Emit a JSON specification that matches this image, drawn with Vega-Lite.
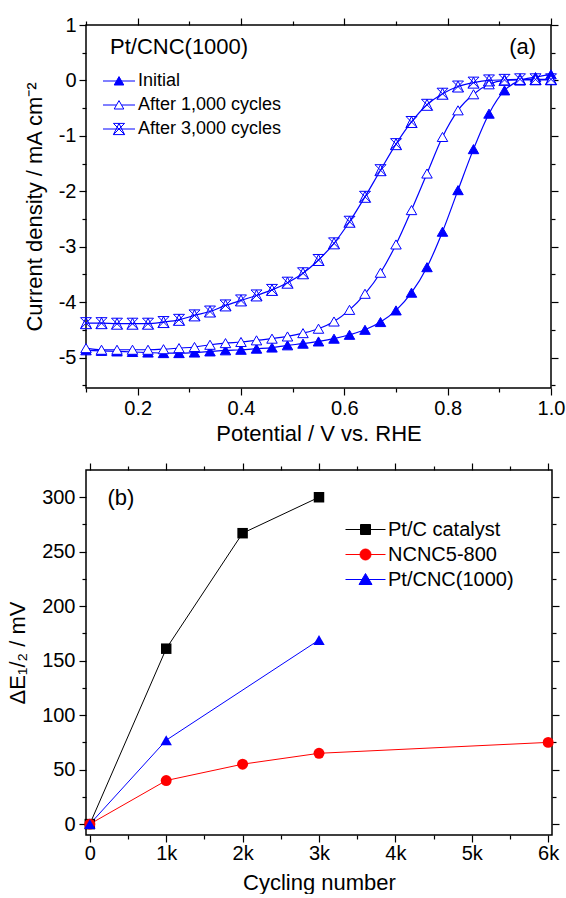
{
  "$schema": "https://vega.github.io/schema/vega-lite/v6.json",
  "padding": {"left": 5, "top": 14, "right": 0, "bottom": 0},
  "spacing": 16,
  "resolve": {
    "scale": {"color": "independent"},
    "legend": {"color": "independent"}
  },
  "config": {
    "font": "Liberation Sans",
    "view": {"stroke": "#000000", "strokeWidth": 1.5},
    "axis": {
      "grid": false,
      "domain": false,
      "labelFont": "Liberation Sans",
      "titleFont": "Liberation Sans",
      "labelFontSize": 20,
      "titleFontSize": 22,
      "labelColor": "#000000",
      "titleColor": "#000000",
      "titleFontWeight": "normal",
      "tickColor": "#000000",
      "tickWidth": 1.2,
      "labelFlush": false,
      "labelOverlap": false
    },
    "legend": {
      "labelFont": "Liberation Sans",
      "titleFont": "Liberation Sans",
      "labelColor": "#000000",
      "titleColor": "#000000",
      "titleFontWeight": "normal",
      "padding": 0
    },
    "text": {"font": "Liberation Sans", "fontWeight": "normal"}
  },
  "datasets": {
    "a": [
      {"E": 0.10, "j": -4.87, "s": "Initial"},
      {"E": 0.13, "j": -4.88, "s": "Initial"},
      {"E": 0.16, "j": -4.89, "s": "Initial"},
      {"E": 0.19, "j": -4.90, "s": "Initial"},
      {"E": 0.22, "j": -4.91, "s": "Initial"},
      {"E": 0.25, "j": -4.92, "s": "Initial"},
      {"E": 0.28, "j": -4.92, "s": "Initial"},
      {"E": 0.31, "j": -4.91, "s": "Initial"},
      {"E": 0.34, "j": -4.89, "s": "Initial"},
      {"E": 0.37, "j": -4.87, "s": "Initial"},
      {"E": 0.40, "j": -4.86, "s": "Initial"},
      {"E": 0.43, "j": -4.84, "s": "Initial"},
      {"E": 0.46, "j": -4.82, "s": "Initial"},
      {"E": 0.49, "j": -4.78, "s": "Initial"},
      {"E": 0.52, "j": -4.75, "s": "Initial"},
      {"E": 0.55, "j": -4.71, "s": "Initial"},
      {"E": 0.58, "j": -4.66, "s": "Initial"},
      {"E": 0.61, "j": -4.59, "s": "Initial"},
      {"E": 0.64, "j": -4.50, "s": "Initial"},
      {"E": 0.67, "j": -4.36, "s": "Initial"},
      {"E": 0.70, "j": -4.15, "s": "Initial"},
      {"E": 0.73, "j": -3.83, "s": "Initial"},
      {"E": 0.76, "j": -3.37, "s": "Initial"},
      {"E": 0.79, "j": -2.73, "s": "Initial"},
      {"E": 0.82, "j": -1.98, "s": "Initial"},
      {"E": 0.85, "j": -1.24, "s": "Initial"},
      {"E": 0.88, "j": -0.60, "s": "Initial"},
      {"E": 0.91, "j": -0.18, "s": "Initial"},
      {"E": 0.94, "j": 0.00, "s": "Initial"},
      {"E": 0.97, "j": 0.06, "s": "Initial"},
      {"E": 1.00, "j": 0.11, "s": "Initial"},
      {"E": 0.10, "j": -4.83, "s": "After 1,000 cycles"},
      {"E": 0.13, "j": -4.86, "s": "After 1,000 cycles"},
      {"E": 0.16, "j": -4.86, "s": "After 1,000 cycles"},
      {"E": 0.19, "j": -4.86, "s": "After 1,000 cycles"},
      {"E": 0.22, "j": -4.86, "s": "After 1,000 cycles"},
      {"E": 0.25, "j": -4.85, "s": "After 1,000 cycles"},
      {"E": 0.28, "j": -4.83, "s": "After 1,000 cycles"},
      {"E": 0.31, "j": -4.81, "s": "After 1,000 cycles"},
      {"E": 0.34, "j": -4.77, "s": "After 1,000 cycles"},
      {"E": 0.37, "j": -4.74, "s": "After 1,000 cycles"},
      {"E": 0.40, "j": -4.72, "s": "After 1,000 cycles"},
      {"E": 0.43, "j": -4.69, "s": "After 1,000 cycles"},
      {"E": 0.46, "j": -4.66, "s": "After 1,000 cycles"},
      {"E": 0.49, "j": -4.62, "s": "After 1,000 cycles"},
      {"E": 0.52, "j": -4.56, "s": "After 1,000 cycles"},
      {"E": 0.55, "j": -4.48, "s": "After 1,000 cycles"},
      {"E": 0.58, "j": -4.35, "s": "After 1,000 cycles"},
      {"E": 0.61, "j": -4.14, "s": "After 1,000 cycles"},
      {"E": 0.64, "j": -3.85, "s": "After 1,000 cycles"},
      {"E": 0.67, "j": -3.47, "s": "After 1,000 cycles"},
      {"E": 0.70, "j": -2.96, "s": "After 1,000 cycles"},
      {"E": 0.73, "j": -2.34, "s": "After 1,000 cycles"},
      {"E": 0.76, "j": -1.68, "s": "After 1,000 cycles"},
      {"E": 0.79, "j": -1.02, "s": "After 1,000 cycles"},
      {"E": 0.82, "j": -0.54, "s": "After 1,000 cycles"},
      {"E": 0.85, "j": -0.25, "s": "After 1,000 cycles"},
      {"E": 0.88, "j": -0.07, "s": "After 1,000 cycles"},
      {"E": 0.91, "j": 0.00, "s": "After 1,000 cycles"},
      {"E": 0.94, "j": 0.01, "s": "After 1,000 cycles"},
      {"E": 0.97, "j": 0.01, "s": "After 1,000 cycles"},
      {"E": 1.00, "j": 0.01, "s": "After 1,000 cycles"},
      {"E": 0.10, "j": -4.38, "s": "After 3,000 cycles"},
      {"E": 0.13, "j": -4.38, "s": "After 3,000 cycles"},
      {"E": 0.16, "j": -4.39, "s": "After 3,000 cycles"},
      {"E": 0.19, "j": -4.39, "s": "After 3,000 cycles"},
      {"E": 0.22, "j": -4.39, "s": "After 3,000 cycles"},
      {"E": 0.25, "j": -4.36, "s": "After 3,000 cycles"},
      {"E": 0.28, "j": -4.32, "s": "After 3,000 cycles"},
      {"E": 0.31, "j": -4.24, "s": "After 3,000 cycles"},
      {"E": 0.34, "j": -4.17, "s": "After 3,000 cycles"},
      {"E": 0.37, "j": -4.06, "s": "After 3,000 cycles"},
      {"E": 0.40, "j": -3.97, "s": "After 3,000 cycles"},
      {"E": 0.43, "j": -3.88, "s": "After 3,000 cycles"},
      {"E": 0.46, "j": -3.78, "s": "After 3,000 cycles"},
      {"E": 0.49, "j": -3.65, "s": "After 3,000 cycles"},
      {"E": 0.52, "j": -3.48, "s": "After 3,000 cycles"},
      {"E": 0.55, "j": -3.24, "s": "After 3,000 cycles"},
      {"E": 0.58, "j": -2.94, "s": "After 3,000 cycles"},
      {"E": 0.61, "j": -2.55, "s": "After 3,000 cycles"},
      {"E": 0.64, "j": -2.10, "s": "After 3,000 cycles"},
      {"E": 0.67, "j": -1.62, "s": "After 3,000 cycles"},
      {"E": 0.70, "j": -1.15, "s": "After 3,000 cycles"},
      {"E": 0.73, "j": -0.75, "s": "After 3,000 cycles"},
      {"E": 0.76, "j": -0.44, "s": "After 3,000 cycles"},
      {"E": 0.79, "j": -0.24, "s": "After 3,000 cycles"},
      {"E": 0.82, "j": -0.11, "s": "After 3,000 cycles"},
      {"E": 0.85, "j": -0.04, "s": "After 3,000 cycles"},
      {"E": 0.88, "j": 0.00, "s": "After 3,000 cycles"},
      {"E": 0.91, "j": 0.01, "s": "After 3,000 cycles"},
      {"E": 0.94, "j": 0.02, "s": "After 3,000 cycles"},
      {"E": 0.97, "j": 0.02, "s": "After 3,000 cycles"},
      {"E": 1.00, "j": 0.02, "s": "After 3,000 cycles"}
    ],
    "b": [
      {"n": 0, "d": 0, "s": "Pt/C catalyst"},
      {"n": 1000, "d": 161, "s": "Pt/C catalyst"},
      {"n": 2000, "d": 267, "s": "Pt/C catalyst"},
      {"n": 3000, "d": 300, "s": "Pt/C catalyst"},
      {"n": 0, "d": 0, "s": "NCNC5-800"},
      {"n": 1000, "d": 40, "s": "NCNC5-800"},
      {"n": 2000, "d": 55, "s": "NCNC5-800"},
      {"n": 3000, "d": 65, "s": "NCNC5-800"},
      {"n": 6000, "d": 75, "s": "NCNC5-800"},
      {"n": 0, "d": 0, "s": "Pt/CNC(1000)"},
      {"n": 1000, "d": 77, "s": "Pt/CNC(1000)"},
      {"n": 3000, "d": 169, "s": "Pt/CNC(1000)"}
    ]
  },
  "vconcat": [
    {
      "width": 465,
      "height": 363,
      "data": {"name": "a"},
      "resolve": {"axis": {"x": "independent", "y": "independent"}},
      "layer": [
        {
          "mark": {"type": "line", "interpolate": "monotone", "strokeWidth": 1.2},
          "encoding": {
            "x": {
              "field": "E", "type": "quantitative",
              "scale": {"domain": [0.1, 1.0], "nice": false, "zero": false},
              "axis": {
                "orient": "bottom",
                "title": "Potential / V vs. RHE",
                "values": [0.1, 0.2, 0.3, 0.4, 0.5, 0.6, 0.7, 0.8, 0.9, 1.0],
                "labelExpr": "round(datum.value*10) % 2 == 0 ? format(datum.value, '.1f') : ''",
                "tickSize": {"condition": {"test": "round(datum.value*10) % 2 == 0", "value": 7}, "value": 4},
                "labelPadding": 3,
                "titlePadding": 5
              }
            },
            "y": {
              "field": "j", "type": "quantitative",
              "scale": {"domain": [-5.55, 1], "nice": false, "zero": false},
              "axis": {
                "orient": "left",
                "title": "Current density / mA cm⁻²",
                "values": [-5.5, -5, -4.5, -4, -3.5, -3, -2.5, -2, -1.5, -1, -0.5, 0, 0.5, 1],
                "labelExpr": "datum.value % 1 == 0 ? '' + datum.value : ''",
                "tickSize": {"condition": {"test": "datum.value % 1 == 0", "value": 7}, "value": 4},
                "labelPadding": 3,
                "titlePadding": 12
              }
            },
            "color": {
              "field": "s", "type": "nominal",
              "scale": {"domain": ["Initial", "After 1,000 cycles", "After 3,000 cycles"], "range": ["#0000ff", "#0000ff", "#0000ff"]},
              "legend": {
                "title": "Pt/CNC(1000)",
                "orient": "none",
                "legendX": 24,
                "legendY": 12,
                "titleFontSize": 22,
                "titlePadding": 13,
                "labelFontSize": 18,
                "symbolSize": 256,
                "labelOffset": 10,
                "rowPadding": 6,
                "encode": {
                  "symbols": {
                    "update": {
                      "shape": {"signal": "datum.value === 'Initial' ? 'M-2,0L2,0M0,-0.55L0.6,0.5L-0.6,0.5Z' : datum.value === 'After 1,000 cycles' ? 'M-2,0L-0.33,0M0.33,0L2,0M0,-0.55L0.6,0.5L-0.6,0.5Z' : 'M-2,0L2,0M-0.7,-0.7L0.7,-0.7L-0.7,0.7L0.7,0.7ZM0,-0.7L0.7,0.7M0,-0.7L-0.7,0.7'"},
                      "fill": {"signal": "datum.value === 'Initial' ? '#0000ff' : datum.value === 'After 1,000 cycles' ? '#ffffff' : 'transparent'"},
                      "stroke": {"value": "#0000ff"},
                      "strokeWidth": {"value": 1}
                    }
                  }
                }
              }
            }
          }
        },
        {
          "transform": [{"filter": "datum.s === 'Initial'"}],
          "mark": {"type": "point", "size": 110, "shape": "triangle-up", "fill": "#0000ff", "stroke": "#0000ff", "strokeWidth": 1, "opacity": 1},
          "encoding": {
            "x": {
              "field": "E", "type": "quantitative",
              "axis": {
                "orient": "top", "title": null, "labels": false,
                "values": [0.1, 0.2, 0.3, 0.4, 0.5, 0.6, 0.7, 0.8, 0.9, 1.0],
                "tickSize": {"condition": {"test": "round(datum.value*10) % 2 == 0", "value": 7}, "value": 4}
              }
            },
            "y": {
              "field": "j", "type": "quantitative",
              "axis": {
                "orient": "right", "title": null, "labels": false,
                "values": [-5.5, -5, -4.5, -4, -3.5, -3, -2.5, -2, -1.5, -1, -0.5, 0, 0.5, 1],
                "tickSize": {"condition": {"test": "datum.value % 1 == 0", "value": 7}, "value": 4}
              }
            }
          }
        },
        {
          "transform": [{"filter": "datum.s === 'After 1,000 cycles'"}],
          "mark": {"type": "point", "size": 110, "shape": "triangle-up", "fill": "#ffffff", "stroke": "#0000ff", "strokeWidth": 1, "opacity": 1},
          "encoding": {
            "x": {"field": "E", "type": "quantitative", "axis": null},
            "y": {"field": "j", "type": "quantitative", "axis": null}
          }
        },
        {
          "transform": [{"filter": "datum.s === 'After 3,000 cycles'"}],
          "mark": {"type": "point", "size": 121, "shape": "M-1,-1L1,-1L-1,1L1,1ZM0,-1L1,1M0,-1L-1,1", "fill": "transparent", "stroke": "#0000ff", "strokeWidth": 1, "opacity": 1},
          "encoding": {
            "x": {"field": "E", "type": "quantitative", "axis": null},
            "y": {"field": "j", "type": "quantitative", "axis": null}
          }
        },
        {
          "data": {"values": [{}]},
          "mark": {"type": "text", "fontSize": 22, "fontWeight": "normal", "font": "Liberation Sans", "align": "right", "baseline": "middle", "fill": "#000000"},
          "encoding": {
            "x": {"datum": 0.971, "type": "quantitative", "axis": null},
            "y": {"datum": 0.6, "type": "quantitative", "axis": null},
            "text": {"value": "(a)"}
          }
        }
      ]
    },
    {
      "width": 466,
      "height": 365,
      "data": {"name": "b"},
      "resolve": {"axis": {"x": "independent", "y": "independent"}},
      "layer": [
        {
          "mark": {"type": "line", "strokeWidth": 1},
          "encoding": {
            "x": {
              "field": "n", "type": "quantitative",
              "scale": {"domain": [-50, 6050], "nice": false, "zero": false},
              "axis": {
                "orient": "bottom",
                "title": "Cycling number",
                "values": [0, 500, 1000, 1500, 2000, 2500, 3000, 3500, 4000, 4500, 5000, 5500, 6000],
                "labelExpr": "datum.value % 1000 == 0 ? (datum.value == 0 ? '0' : (datum.value/1000) + 'k') : ''",
                "tickSize": {"condition": {"test": "datum.value % 1000 == 0", "value": 7}, "value": 4},
                "labelPadding": 1,
                "titlePadding": 9
              }
            },
            "y": {
              "field": "d", "type": "quantitative",
              "scale": {"domain": [-10, 325], "nice": false, "zero": false},
              "axis": {
                "orient": "left",
                "title": "ΔE₁/₂ / mV",
                "values": [0, 25, 50, 75, 100, 125, 150, 175, 200, 225, 250, 275, 300],
                "labelExpr": "datum.value % 50 == 0 ? '' + datum.value : ''",
                "tickSize": {"condition": {"test": "datum.value % 50 == 0", "value": 7}, "value": 4},
                "labelPadding": 4,
                "titlePadding": 12
              }
            },
            "color": {
              "field": "s", "type": "nominal",
              "scale": {"domain": ["Pt/C catalyst", "NCNC5-800", "Pt/CNC(1000)"], "range": ["#000000", "#ff0000", "#0000ff"]},
              "legend": {
                "title": null,
                "orient": "none",
                "legendX": 269,
                "legendY": 49,
                "labelFontSize": 20,
                "symbolSize": 400,
                "labelOffset": 12,
                "rowPadding": 4,
                "encode": {
                  "symbols": {
                    "update": {
                      "shape": {"signal": "datum.value === 'Pt/C catalyst' ? 'M-2,0L2,0M-0.5,-0.5L0.5,-0.5L0.5,0.5L-0.5,0.5Z' : datum.value === 'NCNC5-800' ? 'M-2,0L2,0M0.55,0A0.55,0.55,0,1,1,-0.55,0A0.55,0.55,0,1,1,0.55,0Z' : 'M-2,0L2,0M0,-0.6L0.65,0.5L-0.65,0.5Z'"},
                      "fill": {"signal": "datum.value === 'Pt/C catalyst' ? '#000000' : datum.value === 'NCNC5-800' ? '#ff0000' : '#0000ff'"},
                      "stroke": {"signal": "datum.value === 'Pt/C catalyst' ? '#000000' : datum.value === 'NCNC5-800' ? '#ff0000' : '#0000ff'"},
                      "strokeWidth": {"value": 1}
                    }
                  }
                }
              }
            }
          }
        },
        {
          "transform": [{"filter": "datum.s === 'Pt/C catalyst'"}],
          "mark": {"type": "point", "filled": true, "shape": "square", "size": 110, "color": "#000000", "opacity": 1},
          "encoding": {
            "x": {
              "field": "n", "type": "quantitative",
              "axis": {
                "orient": "top", "title": null, "labels": false,
                "values": [0, 500, 1000, 1500, 2000, 2500, 3000, 3500, 4000, 4500, 5000, 5500, 6000],
                "tickSize": {"condition": {"test": "datum.value % 1000 == 0", "value": 7}, "value": 4}
              }
            },
            "y": {
              "field": "d", "type": "quantitative",
              "axis": {
                "orient": "right", "title": null, "labels": false,
                "values": [0, 25, 50, 75, 100, 125, 150, 175, 200, 225, 250, 275, 300],
                "tickSize": {"condition": {"test": "datum.value % 50 == 0", "value": 7}, "value": 4}
              }
            }
          }
        },
        {
          "transform": [{"filter": "datum.s === 'NCNC5-800'"}],
          "mark": {"type": "point", "filled": true, "shape": "circle", "size": 120, "color": "#ff0000", "opacity": 1},
          "encoding": {
            "x": {"field": "n", "type": "quantitative", "axis": null},
            "y": {"field": "d", "type": "quantitative", "axis": null}
          }
        },
        {
          "transform": [{"filter": "datum.s === 'Pt/CNC(1000)'"}],
          "mark": {"type": "point", "filled": true, "shape": "triangle-up", "size": 130, "color": "#0000ff", "opacity": 1},
          "encoding": {
            "x": {"field": "n", "type": "quantitative", "axis": null},
            "y": {"field": "d", "type": "quantitative", "axis": null}
          }
        },
        {
          "data": {"values": [{}]},
          "mark": {"type": "text", "fontSize": 22, "fontWeight": "normal", "font": "Liberation Sans", "align": "left", "baseline": "middle", "fill": "#000000"},
          "encoding": {
            "x": {"datum": 230, "type": "quantitative", "axis": null},
            "y": {"datum": 299, "type": "quantitative", "axis": null},
            "text": {"value": "(b)"}
          }
        }
      ]
    }
  ]
}
